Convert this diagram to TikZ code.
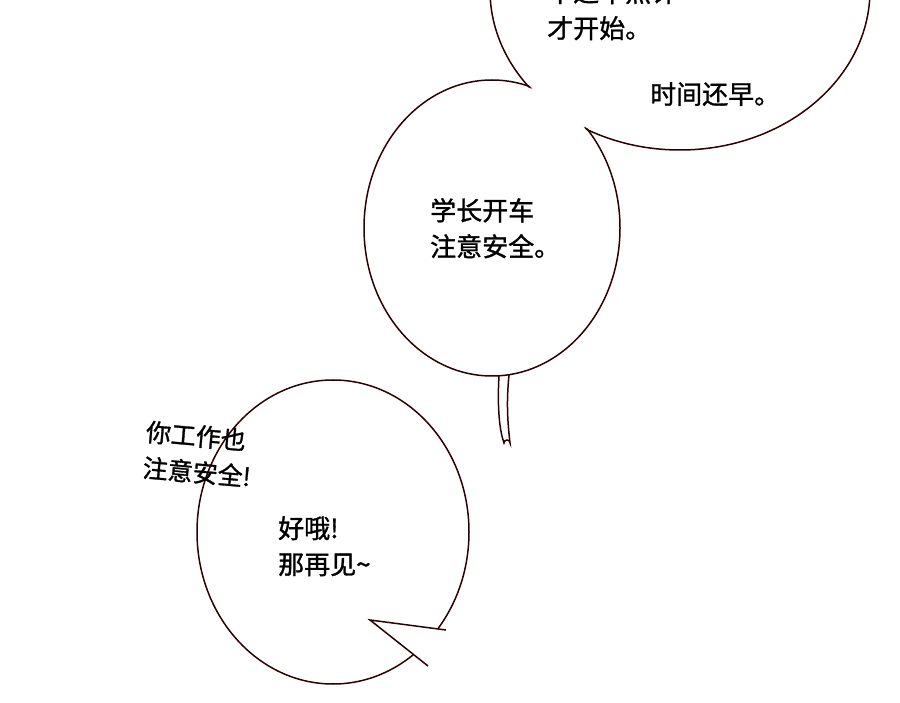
\documentclass[tikz,border=0pt]{standalone}
\usepackage{fontspec}
\setmainfont{Noto Sans CJK SC}[FakeBold=1.2]
\begin{document}
\begin{tikzpicture}[x=1pt,y=-1pt,
 bub/.style={draw=black!70!red!60!black,line width=1.5pt},
 txt/.style={font=\fontsize{26}{36}\selectfont,align=left,anchor=north west,inner sep=0}]
\clip (0,0) rectangle (900,703);
\useasboundingbox (0,0) rectangle (900,703);
\fill[white] (0,0) rectangle (900,703);
\path[bub] (680,-10) ellipse [x radius=190,y radius=160];
\path[bub] (492,228) ellipse [x radius=128,y radius=148];
\fill[white] (680,-10) ellipse [x radius=188.5,y radius=158.5];
\fill[white] (492,228) ellipse [x radius=126.5,y radius=146.5];
\path[bub] (333,532) ellipse [x radius=136,y radius=152];
\fill[white] (333,532) ellipse [x radius=134.5,y radius=150.5];
\draw[draw=black!70!red!60!black,line width=1.5pt,line cap=round] (499,376) .. controls (497,410) and (500,432) .. (504,443) arc[start angle=180,end angle=360,radius=3] .. controls (508,425) and (506,405) .. (509,375);
\path[fill=white] (446,630) -- (370,620) -- (428,666) -- cycle;
\draw[draw=black!70!red!60!black,line width=1.5pt] (446,630) -- (370,620) -- (428,666);
\node[txt] (a) at (547,-20) {不过十点许\\才开始。};
\node[txt] (b) at (650,82) {时间还早。};
\node[txt] (c) at (430,198) {学长开车\\注意安全。};
\node[txt,rotate=-5,font=\fontsize{25}{36}\selectfont] (d) at (147,420) {你工作也\\注意安全!};
\node[txt] (e) at (278,516) {好哦!\\那再见\textasciitilde};
\end{tikzpicture}
\end{document}
